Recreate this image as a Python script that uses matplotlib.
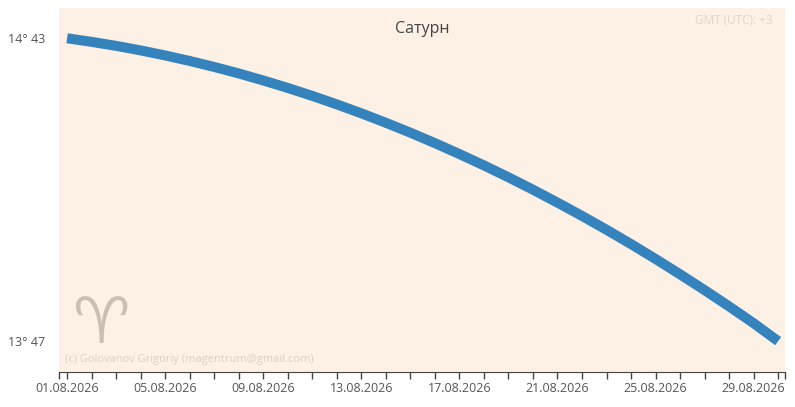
import numpy as np
import matplotlib.pyplot as plt
import matplotlib.dates as mdates
from datetime import datetime, timedelta

# Saturn longitude (in arcminutes of the sign), one value per day from 01.08.2026
start = datetime(2026, 8, 1)
minutes = [883.0, 882.34, 881.60, 880.76, 879.83, 878.81, 877.70, 876.50,
           875.20, 873.82, 872.35, 870.78, 869.13, 867.38, 865.55, 863.62,
           861.60, 859.50, 857.30, 855.01, 852.62, 850.16, 847.60, 844.95,
           842.20, 839.36, 836.44, 833.43, 830.32, 827.0]
ytick_vals = [827, 883]
ytick_labels = ["13° 47", "14° 43"]
title = "Сатурн"
tz_note = "GMT (UTC): +3"
copyright_note = "(c) Golovanov Grigoriy (magentrum@gmail.com)"

days = [start + timedelta(days=i) for i in range(len(minutes))]

plt.rcParams['font.family'] = ['Open Sans', 'DejaVu Sans']

fig = plt.figure(figsize=(7.95, 4.07), dpi=100)
ax = fig.add_axes([59 / 795, 35 / 407, 726 / 795, 364 / 407])
ax.set_facecolor('#fdf0e5')

ax.plot(days, minutes, color='#3583bd', lw=7.2, solid_capstyle='butt')

x0 = mdates.date2num(start)
ax.set_xlim(x0 - 0.33, x0 + 29.28)
ax.set_ylim(821.3, 888.6)

for s in ['top', 'left', 'right']:
    ax.spines[s].set_visible(False)
ax.spines['bottom'].set_color('#444444')

ax.set_yticks(ytick_vals)
ax.set_yticklabels(ytick_labels)
ax.tick_params(axis='y', length=0, pad=10, labelsize=9, labelcolor='#555555')

label_days = [start + timedelta(days=i) for i in range(0, 30, 4)]
ax.set_xticks(label_days)
ax.xaxis.set_major_formatter(mdates.DateFormatter('%d.%m.%Y'))
minor = [x0 + i for i in range(30)] + [x0 - 0.33, x0 + 29.28]
ax.set_xticks(minor, minor=True)
ax.tick_params(axis='x', which='both', direction='out', length=5, width=1,
               color='#444444', labelsize=9, labelcolor='#555555', pad=2)

ax.text(0.5, 0.943, title, transform=ax.transAxes, ha='center', va='center',
        fontsize=11.5, color='#444444')
ax.text(0.983, 0.967, tz_note, transform=ax.transAxes, ha='right', va='center',
        fontsize=8.5, color='#e2d6ca')
ax.text(0.008, 0.018, copyright_note, transform=ax.transAxes, ha='left',
        va='bottom', fontsize=8, color='#dccfc2')
ax.text(0.057, 0.13, '\u2648', transform=ax.transAxes, ha='center',
        va='center', fontsize=46, color='#cbbfb2', family='DejaVu Sans')

fig.savefig('out.png', dpi=100)
